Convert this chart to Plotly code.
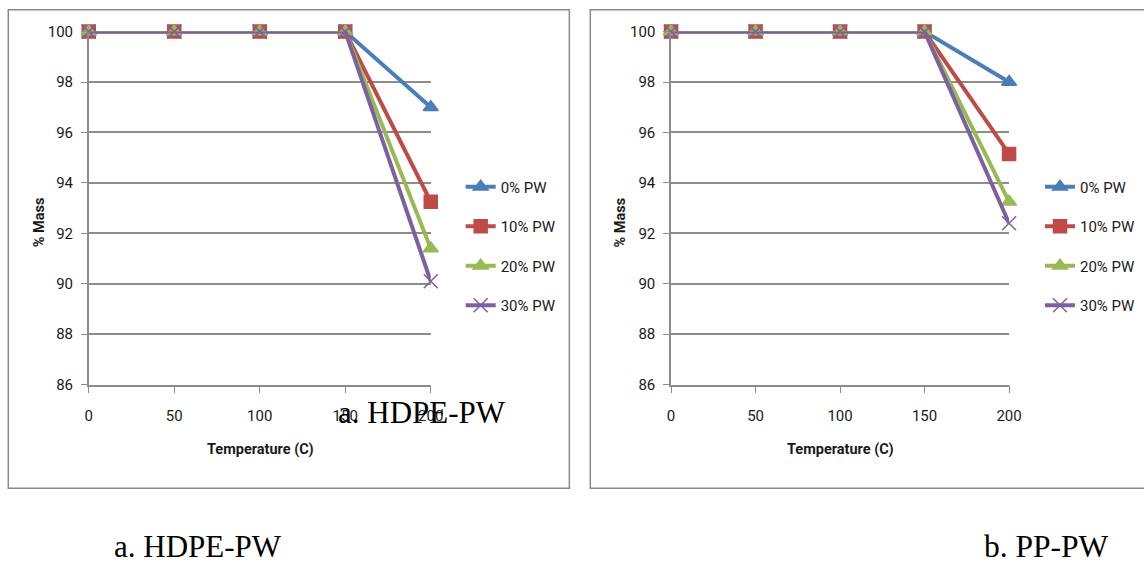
import plotly.graph_objects as go

temps = [0, 50, 100, 150, 200]
series_names = ["0% PW", "10% PW", "20% PW", "30% PW"]
hdpe_0 = [100, 100, 100, 100, 97.0]
hdpe_10 = [100, 100, 100, 100, 93.25]
hdpe_20 = [100, 100, 100, 100, 91.4]
hdpe_30 = [100, 100, 100, 100, 90.1]
pp_0 = [100, 100, 100, 100, 98.0]
pp_10 = [100, 100, 100, 100, 95.15]
pp_20 = [100, 100, 100, 100, 93.25]
pp_30 = [100, 100, 100, 100, 92.4]
y_ticks = [86, 88, 90, 92, 94, 96, 98, 100]
x_ticks = [0, 50, 100, 150, 200]

colors = ["#4A7EBB", "#BE4B48", "#98B954", "#7D60A0"]
symbols = ["triangle-up", "square", "triangle-up", "x-thin-open"]
msizes = [13, 13, 13, 14]

W, H = 1144, 564
# map target picture pixels to page pixels (empirical capture transform)
AX, BX = 0.988, 3.0
AY, BY = 0.972, 7.8
def px(x): return ((x - BX) / AX) / W
def py(y): return 1 - max((y - BY) / AY, 0.8) / H

fig = go.Figure()
for ci, (data, xa, ya, leg) in enumerate([
    ([hdpe_0, hdpe_10, hdpe_20, hdpe_30], "x", "y", "legend"),
    ([pp_0, pp_10, pp_20, pp_30], "x2", "y2", "legend2"),
]):
    for i, ys in enumerate(data):
        fig.add_trace(go.Scatter(
            x=temps, y=ys, name=series_names[i], mode="lines+markers",
            xaxis=xa, yaxis=ya, legend=leg, legendgroup=f"c{ci}s{i}",
            line=dict(color=colors[i], width=4),
            marker=dict(symbol=symbols[i], size=msizes[i], color=colors[i],
                        line=dict(color=colors[i], width=1.5)),
            cliponaxis=False,
        ))

font_tick = dict(family="Roboto, Open Sans, sans-serif", size=15, color="#1a1a1a")
grid = "#8c8c8c"

def xaxis(domain, anchor):
    return dict(domain=domain, anchor=anchor, range=[0, 200], tickvals=x_ticks,
                showgrid=False, zeroline=False, showline=True, linecolor=grid, linewidth=1.5,
                ticks="outside", ticklen=7, tickcolor=grid, tickfont=font_tick,
                ticklabelstandoff=10, fixedrange=True)

def yaxis(domain, anchor):
    return dict(domain=domain, anchor=anchor, range=[86, 100], tickvals=y_ticks,
                showgrid=True, gridcolor=grid, gridwidth=1.5, zeroline=False,
                showline=True, linecolor=grid, linewidth=1.5,
                ticks="outside", ticklen=6, tickcolor=grid, tickfont=font_tick,
                ticklabelstandoff=5, fixedrange=True)

ydom = [py(385), py(30.5)]
fig.update_layout(
    width=W, height=H, margin=dict(l=0, r=0, t=0, b=0),
    paper_bgcolor="white", plot_bgcolor="white",
    xaxis=xaxis([px(88), px(431)], "y"),
    yaxis=yaxis(ydom, "x"),
    xaxis2=xaxis([px(672), px(1011)], "y2"),
    yaxis2=yaxis(ydom, "x2"),
    legend=dict(x=px(461), y=py(170), xanchor="left", yanchor="top",
                font=font_tick, tracegroupgap=17, bgcolor="rgba(0,0,0,0)", itemwidth=30),
    legend2=dict(x=px(1042), y=py(170), xanchor="left", yanchor="top",
                 font=font_tick, tracegroupgap=17, bgcolor="rgba(0,0,0,0)", itemwidth=30),
    showlegend=True,
)

# chart borders
fig.add_shape(type="rect", xref="paper", yref="paper", x0=px(7.3), x1=px(570), y0=py(489), y1=py(5.5),
              line=dict(color="#8a8a8a", width=1.5), layer="below")
fig.add_shape(type="rect", xref="paper", yref="paper", x0=px(591), x1=px(1160), y0=py(489), y1=py(5.5),
              line=dict(color="#8a8a8a", width=1.5), layer="below")

bold_font = dict(family="Roboto, Open Sans, sans-serif", size=14.5, color="#1a1a1a")
serif = dict(family="Liberation Serif, Times New Roman, serif", size=31, color="black")
serif_b = dict(family="Liberation Serif, Times New Roman, serif", size=31.5, color="black")
anns = [
    dict(x=px(38), y=py(222), text="<b>% Mass</b>", textangle=-90, font=bold_font),
    dict(x=px(621), y=py(222), text="<b>% Mass</b>", textangle=-90, font=bold_font),
    dict(x=px(260), y=py(450), text="<b>Temperature (C)</b>", font=bold_font),
    dict(x=px(842), y=py(450), text="<b>Temperature (C)</b>", font=bold_font),
    dict(x=px(422), y=py(413), text="a. HDPE-PW", font=serif),
    dict(x=px(198), y=py(547), text="a. HDPE-PW", font=serif),
    dict(x=px(1049), y=py(547), text="b. PP-PW", font=serif_b),
]
for a in anns:
    fig.add_annotation(xref="paper", yref="paper", showarrow=False,
                       xanchor="center", yanchor="middle", **a)

fig.write_html("out.html", config={"displayModeBar": False},
               post_script="document.body.style.margin='0';document.body.style.overflow='hidden';")
